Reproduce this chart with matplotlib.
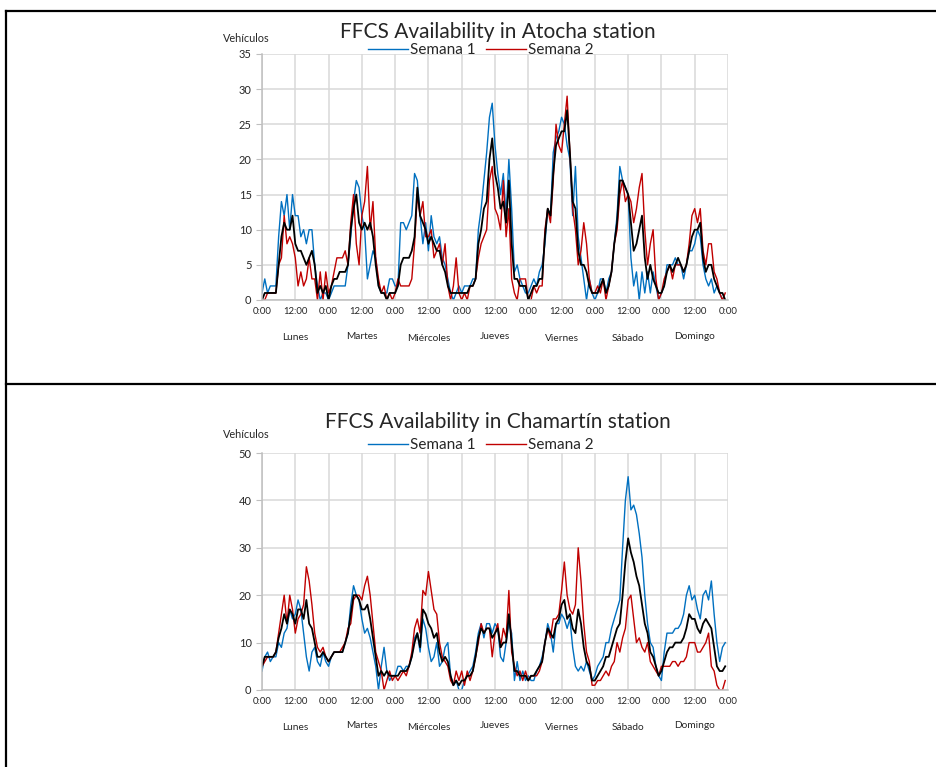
import matplotlib
matplotlib.use("Agg")
import matplotlib.pyplot as plt
import numpy as np

plt.rcParams['font.family'] = ['Lato', 'DejaVu Sans']

dias = ["Lunes", "Martes", "Miércoles", "Jueves", "Viernes", "Sábado", "Domingo"]
hora_labels = ["0:00", "12:00"] * 7 + ["0:00"]

# hourly vehicle counts, one list per day (Lunes..Domingo)
atocha_s1 = [
    [1, 3, 1, 2, 2, 2, 9, 14, 12, 15, 10, 15, 12, 12, 9, 10, 8, 10, 10, 5, 2, 0, 1, 1],
    [0, 1, 2, 2, 2, 2, 2, 5, 9, 14, 17, 16, 12, 10, 3, 5, 7, 6, 2, 1, 1, 1, 3, 3],
    [2, 2, 11, 11, 10, 11, 12, 18, 17, 12, 8, 11, 7, 12, 9, 8, 9, 6, 5, 3, 1, 0, 1, 2],
    [1, 2, 2, 2, 3, 3, 10, 13, 17, 21, 26, 28, 22, 18, 15, 18, 12, 20, 13, 4, 5, 3, 2, 1],
    [1, 2, 3, 2, 4, 5, 8, 13, 12, 21, 23, 24, 26, 25, 22, 20, 12, 19, 9, 6, 3, 0, 3, 1],
    [0, 1, 3, 3, 1, 3, 4, 8, 12, 19, 17, 16, 15, 6, 2, 4, 0, 4, 1, 4, 1, 4, 2, 0],
    [1, 2, 5, 5, 5, 6, 5, 5, 3, 5, 7, 7, 8, 10, 9, 5, 3, 2, 3, 1, 2, 1, 0, 0],
]
atocha_s2 = [
    [0, 0, 1, 1, 1, 1, 5, 6, 12, 8, 9, 8, 6, 2, 4, 2, 3, 6, 3, 3, 0, 4, 0, 4],
    [1, 2, 4, 6, 6, 6, 7, 5, 11, 15, 8, 5, 12, 14, 19, 10, 14, 6, 3, 1, 2, 0, 1, 0],
    [1, 3, 2, 2, 2, 2, 3, 8, 15, 12, 14, 9, 9, 10, 6, 7, 8, 5, 8, 2, 0, 2, 6, 1],
    [0, 1, 0, 2, 2, 3, 6, 8, 9, 10, 17, 19, 13, 12, 10, 17, 9, 13, 3, 1, 0, 3, 3, 3],
    [0, 0, 2, 1, 2, 2, 10, 13, 11, 17, 25, 22, 21, 25, 29, 21, 13, 10, 5, 7, 11, 8, 3, 1],
    [1, 2, 1, 3, 0, 2, 4, 8, 10, 15, 17, 14, 15, 14, 11, 13, 16, 18, 10, 5, 8, 10, 3, 0],
    [1, 3, 4, 5, 3, 5, 5, 5, 4, 5, 8, 12, 13, 11, 13, 7, 5, 8, 8, 4, 3, 1, 0, 1],
]
atocha_media = [
    [0, 1, 1, 1, 1, 1, 5, 9, 11, 10, 10, 12, 8, 7, 7, 6, 5, 6, 7, 5, 1, 2, 1, 2],
    [0, 2, 3, 3, 4, 4, 4, 5, 10, 13, 15, 11, 10, 11, 10, 11, 9, 5, 2, 1, 1, 0, 1, 1],
    [1, 2, 5, 6, 6, 6, 7, 9, 16, 12, 11, 10, 8, 9, 8, 7, 7, 5, 4, 2, 1, 1, 1, 1],
    [1, 1, 1, 2, 2, 3, 8, 10, 13, 14, 20, 23, 18, 16, 13, 14, 11, 17, 8, 3, 3, 2, 2, 2],
    [0, 1, 2, 2, 3, 3, 9, 13, 12, 18, 22, 23, 24, 24, 27, 21, 14, 13, 7, 5, 5, 4, 2, 1],
    [1, 1, 2, 3, 1, 2, 4, 8, 11, 17, 17, 16, 15, 11, 7, 8, 10, 12, 6, 3, 5, 3, 2, 1],
    [1, 2, 4, 5, 4, 5, 6, 5, 4, 5, 7, 9, 10, 10, 11, 6, 4, 5, 5, 3, 2, 1, 1, 0],
]

chamartin_s1 = [
    [4, 7, 8, 6, 7, 7, 10, 9, 12, 13, 17, 15, 16, 19, 17, 12, 7, 4, 8, 9, 6, 5, 8, 6],
    [5, 7, 8, 8, 8, 8, 10, 12, 18, 22, 20, 19, 15, 12, 13, 11, 8, 5, 0, 5, 9, 4, 2, 3],
    [3, 5, 5, 4, 5, 5, 7, 11, 12, 8, 15, 13, 9, 6, 7, 10, 5, 6, 9, 10, 3, 1, 2, 0],
    [0, 2, 3, 4, 5, 8, 12, 14, 11, 14, 14, 12, 14, 13, 7, 6, 10, 14, 12, 2, 6, 2, 4, 2],
    [3, 2, 2, 4, 5, 7, 10, 14, 12, 8, 14, 14, 16, 15, 13, 15, 9, 5, 4, 5, 4, 6, 4, 2],
    [3, 5, 6, 7, 10, 10, 13, 15, 17, 19, 30, 40, 45, 38, 39, 37, 33, 28, 20, 14, 10, 9, 5, 3],
    [2, 8, 12, 12, 12, 13, 13, 14, 16, 20, 22, 19, 20, 17, 15, 20, 21, 19, 23, 16, 10, 6, 9, 10],
]
chamartin_s2 = [
    [5, 6, 7, 7, 7, 8, 12, 16, 20, 14, 20, 17, 12, 15, 16, 18, 26, 23, 18, 12, 9, 8, 9, 7],
    [6, 7, 8, 8, 8, 9, 10, 13, 14, 19, 20, 20, 19, 22, 24, 20, 14, 8, 6, 4, 0, 2, 4, 2],
    [3, 2, 3, 4, 3, 5, 8, 13, 15, 12, 21, 20, 25, 21, 17, 16, 10, 7, 6, 5, 2, 1, 4, 2],
    [4, 1, 4, 2, 4, 7, 10, 14, 12, 13, 13, 7, 12, 14, 9, 13, 11, 21, 8, 5, 3, 4, 2, 4],
    [2, 3, 3, 3, 4, 6, 10, 13, 11, 15, 15, 16, 21, 27, 20, 17, 16, 18, 30, 23, 14, 8, 6, 1],
    [1, 2, 2, 3, 4, 3, 5, 6, 10, 8, 11, 13, 19, 20, 15, 10, 11, 9, 8, 10, 6, 5, 4, 3],
    [5, 5, 5, 5, 6, 6, 5, 6, 6, 7, 10, 10, 10, 8, 8, 9, 10, 12, 5, 4, 1, 0, 0, 2],
]
chamartin_media = [
    [5, 7, 7, 7, 7, 8, 11, 13, 16, 14, 17, 16, 14, 17, 17, 15, 19, 14, 13, 10, 7, 7, 8, 7],
    [6, 7, 8, 8, 8, 8, 10, 12, 16, 20, 20, 19, 17, 17, 18, 15, 11, 7, 3, 4, 3, 4, 3, 3],
    [3, 3, 4, 4, 4, 5, 7, 10, 12, 9, 17, 16, 14, 13, 11, 12, 8, 6, 7, 6, 3, 1, 2, 1],
    [2, 2, 3, 3, 4, 7, 11, 13, 12, 13, 13, 11, 12, 13, 9, 10, 10, 16, 10, 4, 4, 3, 3, 3],
    [2, 3, 3, 4, 5, 6, 10, 13, 12, 11, 14, 15, 18, 19, 15, 16, 13, 12, 17, 14, 9, 6, 5, 2],
    [2, 3, 4, 5, 7, 7, 9, 11, 13, 14, 20, 27, 32, 29, 27, 24, 22, 18, 14, 12, 8, 7, 5, 3],
    [4, 6, 8, 9, 9, 10, 10, 10, 11, 13, 16, 15, 15, 13, 12, 14, 15, 14, 13, 9, 5, 4, 4, 5],
]

AZUL = "#0070C0"
ROJO = "#C00000"
GRIS = "#D9D9D9"
TXT = "#262626"

fig = plt.figure(figsize=(9.36, 7.67), dpi=100)

# table borders of the scanned page
W, H = 936, 767
for y in (11, 384):
    fig.add_artist(plt.Line2D([6 / W, 1], [1 - y / H, 1 - y / H], color="black", lw=1.6))
fig.add_artist(plt.Line2D([6 / W, 6 / W], [1 - 11 / H, 0], color="black", lw=1.6))


def dibujar(rect, s1, s2, media, ymax, titulo, title_y, leg_y, veh_y, dia_y):
    ax = fig.add_axes(rect)
    horas = np.arange(7 * 24)
    ax.plot(horas, np.concatenate(s1), color=AZUL, lw=1.0, label="Semana 1")
    ax.plot(horas, np.concatenate(s2), color=ROJO, lw=1.0, label="Semana 2")
    ax.plot(horas, np.concatenate(media), color="black", lw=1.3)

    ax.set_xlim(0, 168)
    ax.set_ylim(0, ymax)
    ax.set_xticks(np.arange(0, 169, 12))
    ax.set_xticklabels(hora_labels, fontsize=6.8, color=TXT)
    ax.set_yticks(np.arange(0, ymax + 1, 5 if ymax == 35 else 10))
    ax.tick_params(axis="y", labelsize=8, colors="#BFBFBF", labelcolor=TXT, length=4, width=0.8)
    ax.tick_params(axis="x", length=0, pad=5)
    ax.grid(True, color=GRIS, lw=1.1)
    ax.set_axisbelow(True)
    for s in ("top", "right"):
        ax.spines[s].set_visible(False)
    for s in ("left", "bottom"):
        ax.spines[s].set_color("#BFBFBF")
        ax.spines[s].set_linewidth(1.1)

    fig.text(498 / W, title_y, titulo, ha="center", va="center", fontsize=15, color=TXT)
    fig.text(246 / W, veh_y, "Vehículos", ha="center", va="center", fontsize=7.8, color=TXT)
    ax.legend(loc="center", bbox_to_anchor=(481 / W, leg_y), bbox_transform=fig.transFigure,
              ncol=2, frameon=False, fontsize=11, handlelength=2.6, handletextpad=0.15,
              columnspacing=0.7, labelcolor=TXT, borderpad=0)

    offs = [0, 1, -1, 1, -1, -1, 1]
    for i, d in enumerate(dias):
        ax.annotate(d, xy=(i * 24 + 12, 0), xycoords=("data", "axes fraction"),
                    xytext=(0, -dia_y + offs[i]), textcoords="offset pixels",
                    ha="center", va="center", fontsize=7.3, color=TXT)
    return ax


dibujar([262 / W, 1 - 300 / H, 466 / W, 246 / H], atocha_s1, atocha_s2, atocha_media, 35,
        "FFCS Availability in Atocha station", 1 - 32 / H, 1 - 50 / H, 1 - 39 / H, 38)
dibujar([262 / W, 1 - 690 / H, 466 / W, 237 / H], chamartin_s1, chamartin_s2, chamartin_media, 50,
        "FFCS Availability in Chamartín station", 1 - 422 / H, 1 - 445 / H, 1 - 434 / H, 37)

fig.savefig("out.png", dpi=100)
